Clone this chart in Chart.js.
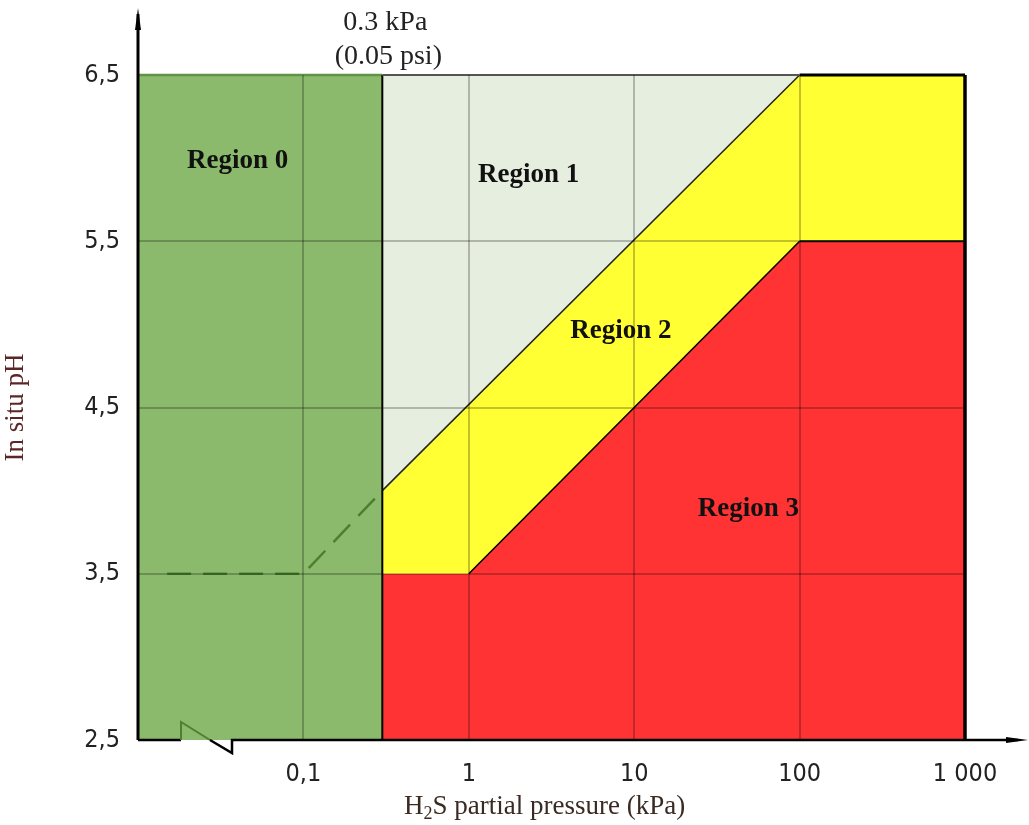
<!DOCTYPE html>
<html>
<head>
<meta charset="utf-8">
<script src="https://cdn.jsdelivr.net/npm/chart.js@4.4.1/dist/chart.umd.min.js"></script>
<style>
  html, body { margin: 0; padding: 0; background: #fff; }
  #wrap { width: 1029px; height: 825px; }
</style>
</head>
<body>
<div id="wrap"><canvas id="chart" width="1029" height="825"></canvas></div>
<script>
// axis ticks
const xTickValues = [0.01, 0.1, 1, 10, 100, 1000];
const xTickLabels = ['', '0,1', '1', '10', '100', '1 000'];
const yTickValues = [2.5, 3.5, 4.5, 5.5, 6.5];
const yTickLabels = ['2,5', '3,5', '4,5', '5,5', '6,5'];

// region boundaries (H2S kPa / pH)
const region0X = [0.01, 0.3];
const region0Y = [6.5, 6.5];
const upperX = [0.3, 100];
const upperY = [4.0, 6.5];
const lowerX = [0.3, 1, 100, 1000];
const lowerY = [3.5, 3.5, 5.5, 5.5];
const dashX = [0.015, 0.1, 0.3];
const dashY = [3.5, 3.5, 4.0];
const limitX = [0.3, 0.3];
const limitY = [2.5, 6.5];

// region names
const regionNames = ['Region 0', 'Region 1', 'Region 2', 'Region 3'];
const regionNameX = [0.04, 2.3, 8.3, 49];
const regionNameY = [5.98, 5.9, 4.96, 3.89];

function pts(xs, ys) {
    return xs.map((x, i) => ({ x: x, y: ys[i] }));
}

function lineSet(data, color, width, extra) {
    return Object.assign({
        data: data,
        showLine: true,
        borderColor: color,
        borderWidth: width,
        pointRadius: 0,
        fill: false,
        tension: 0,
        clip: 6
    }, extra || {});
}

// decorations: axis arrows, break mark, labels
const decorations = {
    id: 'decorations',
    afterDraw(chart) {
        const ctx = chart.ctx;
        const a = chart.chartArea;
        const xs = chart.scales.x;
        const ys = chart.scales.y;
        ctx.save();

        // region names
        ctx.fillStyle = '#111';
        ctx.font = 'bold 27px "Liberation Serif", serif';
        ctx.textAlign = 'center';
        ctx.textBaseline = 'middle';
        regionNames.forEach((name, i) => {
            ctx.fillText(name, xs.getPixelForValue(regionNameX[i]), ys.getPixelForValue(regionNameY[i]));
        });

        // 0.3 kPa note
        const px03 = xs.getPixelForValue(0.3);
        ctx.font = '28px "Liberation Serif", serif';
        ctx.fillStyle = '#222';
        ctx.fillText('0.3 kPa', px03 + 3, a.top - 52);
        ctx.fillText('(0.05 psi)', px03 + 6, a.top - 18);

        // y axis with arrow
        ctx.strokeStyle = '#000';
        ctx.lineWidth = 3;
        ctx.beginPath();
        ctx.moveTo(a.left, a.bottom);
        ctx.lineTo(a.left, 14);
        ctx.stroke();
        ctx.fillStyle = '#000';
        ctx.beginPath();
        ctx.moveTo(a.left, 8);
        ctx.lineTo(a.left - 3, 30);
        ctx.lineTo(a.left + 3, 30);
        ctx.closePath();
        ctx.fill();

        // x axis with break and arrow
        const b = a.bottom;
        const k1 = a.left + 43, k2 = a.left + 94;
        ctx.lineWidth = 2.5;
        ctx.beginPath();
        ctx.moveTo(a.left, b);
        ctx.lineTo(k1, b);
        ctx.stroke();
        ctx.strokeStyle = '#4f7f36';
        ctx.lineWidth = 2;
        ctx.beginPath();
        ctx.moveTo(k1, b);
        ctx.lineTo(k1, b - 18);
        ctx.lineTo(k1 + 29, b);
        ctx.stroke();
        ctx.strokeStyle = '#000';
        ctx.lineWidth = 2.5;
        ctx.beginPath();
        ctx.moveTo(k1 + 29, b);
        ctx.lineTo(k2, b + 13);
        ctx.lineTo(k2, b);
        ctx.lineTo(1018, b);
        ctx.stroke();
        ctx.beginPath();
        ctx.moveTo(1028, b);
        ctx.lineTo(1006, b - 3);
        ctx.lineTo(1006, b + 3);
        ctx.closePath();
        ctx.fill();

        // x title with subscript
        ctx.fillStyle = '#3b2a22';
        ctx.textAlign = 'left';
        ctx.textBaseline = 'alphabetic';
        const tx = 404, ty = 814;
        ctx.font = '27px "Liberation Serif", serif';
        ctx.fillText('H', tx, ty);
        let w = ctx.measureText('H').width;
        ctx.font = '18px "Liberation Serif", serif';
        ctx.fillText('2', tx + w, ty + 5);
        w += ctx.measureText('2').width;
        ctx.font = '27px "Liberation Serif", serif';
        ctx.fillText('S partial pressure (kPa)', tx + w, ty);

        ctx.restore();
    }
};

const gridColor = (ctx, ends) => {
    const v = ctx.tick ? ctx.tick.value : null;
    return ends.includes(v) ? 'rgba(0,0,0,0)' : 'rgba(0,0,0,0.24)';
};

const tickFont = { family: '"Liberation Sans Narrow", "DejaVu Sans Condensed", sans-serif', size: 25 };

new Chart(document.getElementById('chart'), {
    type: 'scatter',
    data: {
        datasets: [
            // borders and boundary lines (top)
            lineSet(pts([0.3, 100], [6.5, 6.5]), '#555', 2),
            lineSet(pts([100, 1000], [6.5, 6.5]), '#000', 3),
            lineSet(pts([100, 1000], [5.5, 5.5]), '#111', 2),
            lineSet(pts([1000, 1000], [2.5, 6.5]), '#000', 3.5),
            lineSet(pts(limitX, limitY), '#000', 2),
            lineSet(pts(lowerX.slice(1, 3), lowerY.slice(1, 3)), '#000', 1.5),
            lineSet(pts(dashX, dashY), '#4a8030', 2.5, { borderDash: [24, 12] }),
            // region 1 (light)
            lineSet(pts(upperX, upperY), '#222', 1.5, { fill: 'end', backgroundColor: '#e6efdf' }),
            // region 2 (yellow)
            lineSet(pts(lowerX, lowerY), 'rgba(0,0,0,0)', 0, { fill: 'end', backgroundColor: '#ffff33' }),
            // region 3 (red)
            lineSet(pts(lowerX, lowerY), 'rgba(0,0,0,0)', 0, { fill: 'start', backgroundColor: '#ff3333' }),
            // region 0 (green)
            lineSet(pts(region0X, region0Y), '#5f9444', 2.5, { fill: 'start', backgroundColor: '#8cba6c' })
        ]
    },
    options: {
        responsive: false,
        animation: false,
        events: [],
        layout: { padding: { top: 75, right: 64, left: 0, bottom: 0 } },
        plugins: {
            legend: { display: false },
            tooltip: { enabled: false },
            filler: { propagate: false }
        },
        scales: {
            x: {
                type: 'logarithmic',
                min: 0.01,
                max: 1000,
                afterBuildTicks: (s) => { s.ticks = xTickValues.map(v => ({ value: v })); },
                afterFit: (s) => { s.height = 85; },
                border: { display: false },
                grid: {
                    z: 1,
                    color: (ctx) => gridColor(ctx, [0.01, 1000]),
                    lineWidth: 2,
                    drawTicks: false
                },
                ticks: {
                    autoSkip: false,
                    maxRotation: 0,
                    padding: 19,
                    color: '#222',
                    font: tickFont,
                    callback: (v, i) => xTickLabels[i]
                }
            },
            y: {
                type: 'linear',
                min: 2.5,
                max: 6.5,
                afterBuildTicks: (s) => { s.ticks = yTickValues.map(v => ({ value: v })); },
                afterFit: (s) => { s.width = 138; },
                border: { display: false },
                grid: {
                    z: 1,
                    color: (ctx) => gridColor(ctx, [2.5, 6.5]),
                    lineWidth: 2,
                    drawTicks: false
                },
                title: {
                    display: true,
                    text: 'In situ pH',
                    color: '#5a2626',
                    font: { family: '"Liberation Serif", serif', size: 27 },
                    padding: { top: 0, bottom: 30 }
                },
                ticks: {
                    padding: 18,
                    color: '#222',
                    font: tickFont,
                    callback: (v, i) => yTickLabels[i]
                }
            }
        }
    },
    plugins: [decorations]
});
</script>
</body>
</html>
